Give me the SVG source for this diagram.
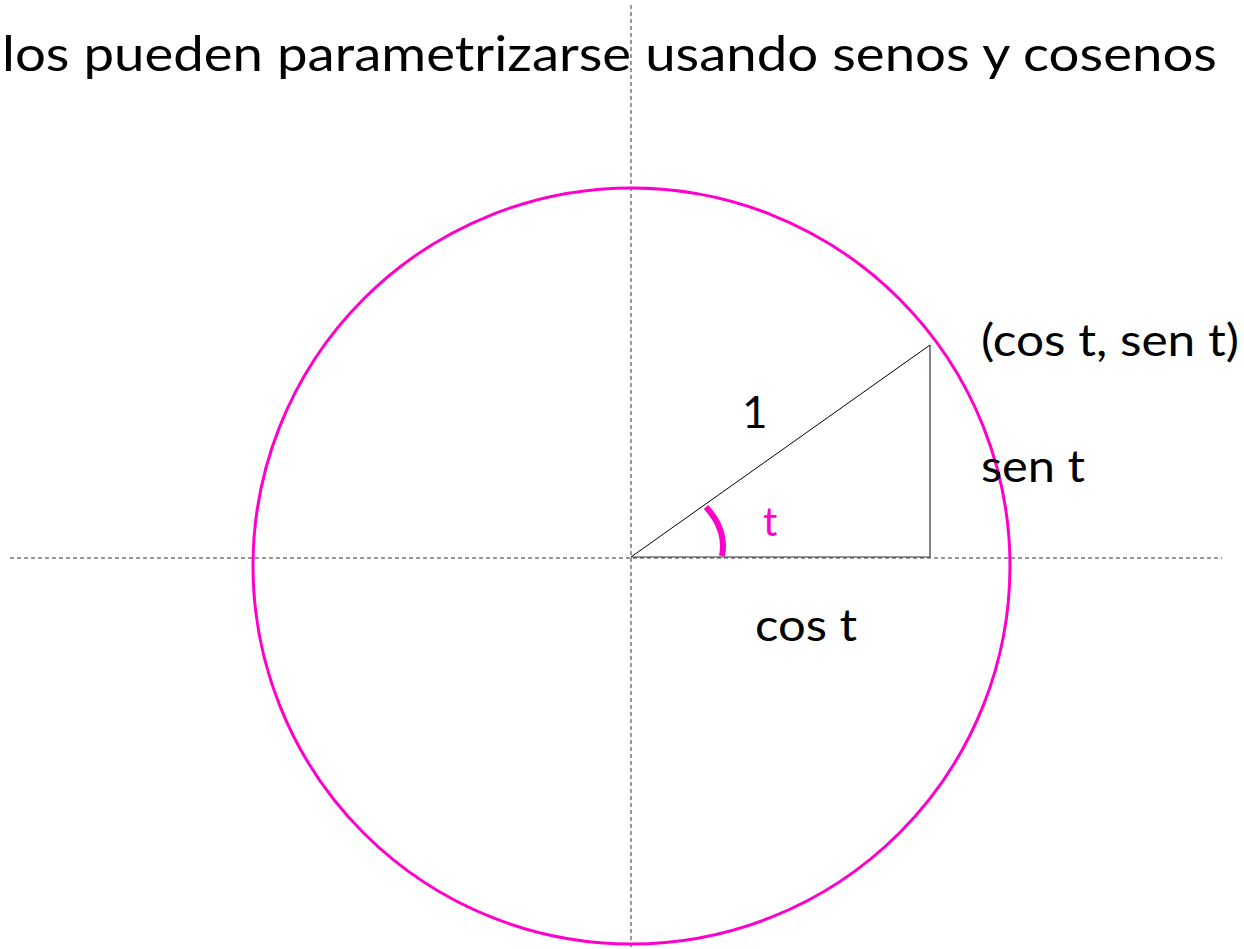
<svg xmlns="http://www.w3.org/2000/svg" width="1244" height="949" viewBox="0 0 1244 949">
<style>
.axis{stroke:#333;stroke-width:1;stroke-dasharray:4 3;fill:none}
.lbl{font-family:Lato,"Noto Sans",sans-serif;fill:#000}
</style>
<rect width="1244" height="949" fill="#fff"/>
<g id="title"><text class="lbl" x="2" y="71" font-size="49" textLength="1215" lengthAdjust="spacingAndGlyphs">los pueden parametrizarse usando senos y cosenos</text></g>
<g id="axes">
<line class="axis" x1="631" y1="5" x2="631" y2="949"/>
<line class="axis" x1="10" y1="558" x2="1222" y2="558"/>
</g>
<g id="circle"><ellipse cx="631.5" cy="566" rx="378.5" ry="378" fill="none" stroke="#ff00cc" stroke-width="3"/></g>
<g id="triangle">
<polyline points="631,557 930,345" fill="none" stroke="#000" stroke-width="1"/>
<polyline points="930,345 930,557 631,557" fill="none" stroke="#333" stroke-width="1.2"/>
</g>
<g id="angle"><path d="M706,507 Q727,530 722,556" fill="none" stroke="#ff00cc" stroke-width="6"/></g>
<g id="labels">
<text class="lbl" x="981" y="356" font-size="44" textLength="258" lengthAdjust="spacingAndGlyphs">(cos t, sen t)</text>
<text class="lbl" x="742" y="428" font-size="44">1</text>
<text class="lbl" x="981" y="482" font-size="44" textLength="104" lengthAdjust="spacingAndGlyphs">sen t</text>
<text class="lbl" x="755" y="641" font-size="44" textLength="102" lengthAdjust="spacingAndGlyphs">cos t</text>
<text class="lbl" x="763" y="536" font-size="40" style="fill:#ff00cc">t</text>
</g>
</svg>
